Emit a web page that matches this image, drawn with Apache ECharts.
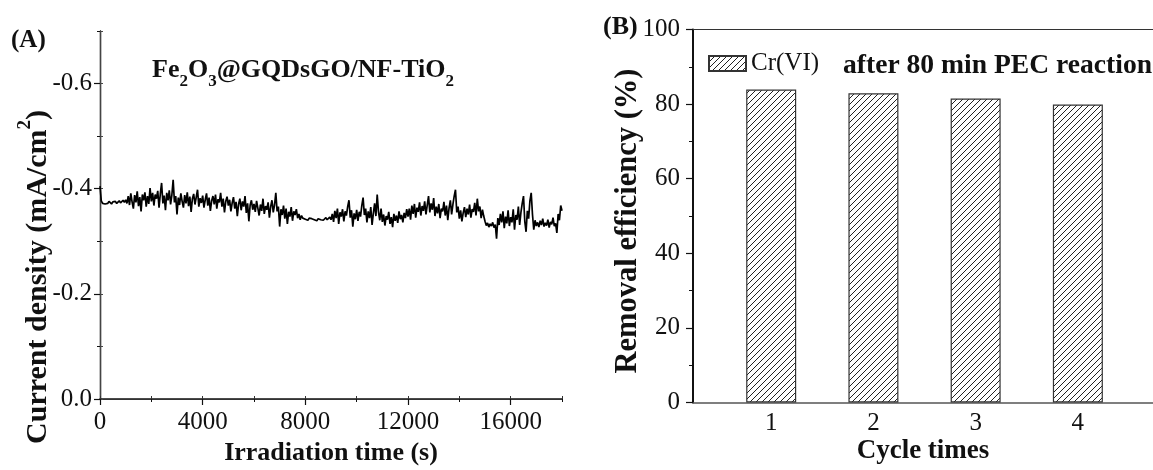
<!DOCTYPE html>
<html>
<head>
<meta charset="utf-8">
<script src="https://cdn.jsdelivr.net/npm/echarts@6/dist/echarts.min.js"></script>
<style>
  html, body { margin: 0; padding: 0; background: #fff; }
  #chart { width: 1153px; height: 470px; }
</style>
</head>
<body>
<div id="chart"></div>
<script>
// (A) photocurrent trace: one reading every timeStep seconds, starting at t = 0
const timeStep = 50;
const currentDensity = [
  -0.405, -0.377, -0.372, -0.375, -0.371, -0.374, -0.372, -0.376, -0.373, -0.371, -0.375, -0.373, -0.376, -0.372, -0.374, -0.377, -0.373, -0.375, -0.378, -0.374,
  -0.379, -0.372, -0.386, -0.369, -0.391, -0.375, -0.362, -0.388, -0.374, -0.395, -0.367, -0.384, -0.357, -0.389, -0.378, -0.393, -0.366, -0.386, -0.371, -0.401,
  -0.376, -0.392, -0.368, -0.389, -0.381, -0.396, -0.364, -0.390, -0.411, -0.372, -0.387, -0.359, -0.392, -0.378, -0.397, -0.370, -0.388, -0.417, -0.374, -0.386,
  -0.351, -0.383, -0.369, -0.391, -0.376, -0.364, -0.388, -0.372, -0.393, -0.367, -0.385, -0.356, -0.381, -0.390, -0.370, -0.384, -0.398, -0.366, -0.382, -0.373,
  -0.387, -0.364, -0.379, -0.391, -0.368, -0.383, -0.358, -0.377, -0.386, -0.370, -0.389, -0.362, -0.380, -0.374, -0.392, -0.366, -0.381, -0.355, -0.376, -0.385,
  -0.368, -0.379, -0.357, -0.373, -0.384, -0.362, -0.375, -0.348, -0.371, -0.381, -0.359, -0.376, -0.366, -0.386, -0.354, -0.372, -0.338, -0.369, -0.378, -0.360,
  -0.371, -0.356, -0.377, -0.363, -0.349, -0.370, -0.358, -0.381, -0.352, -0.367, -0.360, -0.374, -0.345, -0.366, -0.378, -0.355, -0.369, -0.392, -0.357, -0.366,
  -0.328, -0.361, -0.350, -0.368, -0.343, -0.362, -0.333, -0.356, -0.347, -0.365, -0.339, -0.357, -0.350, -0.361, -0.344, -0.352, -0.341, -0.349, -0.344, -0.347,
  -0.342, -0.345, -0.340, -0.344, -0.341, -0.343, -0.346, -0.341, -0.344, -0.339, -0.343, -0.345, -0.341, -0.344, -0.340, -0.342, -0.345, -0.341, -0.343, -0.346,
  -0.341, -0.352, -0.337, -0.358, -0.344, -0.362, -0.333, -0.355, -0.347, -0.361, -0.338, -0.357, -0.349, -0.366, -0.378, -0.345, -0.359, -0.328, -0.353, -0.342,
  -0.360, -0.339, -0.356, -0.347, -0.368, -0.383, -0.350, -0.362, -0.336, -0.357, -0.344, -0.365, -0.331, -0.353, -0.372, -0.348, -0.389, -0.356, -0.340, -0.362,
  -0.337, -0.351, -0.330, -0.348, -0.341, -0.356, -0.333, -0.346, -0.327, -0.352, -0.339, -0.349, -0.335, -0.357, -0.342, -0.350, -0.336, -0.354, -0.344, -0.361,
  -0.347, -0.362, -0.341, -0.368, -0.352, -0.371, -0.345, -0.364, -0.356, -0.374, -0.349, -0.367, -0.358, -0.376, -0.351, -0.369, -0.386, -0.355, -0.372, -0.360,
  -0.382, -0.348, -0.366, -0.353, -0.371, -0.344, -0.362, -0.357, -0.375, -0.349, -0.368, -0.340, -0.363, -0.378, -0.351, -0.370, -0.386, -0.398, -0.355, -0.366,
  -0.343, -0.359, -0.338, -0.354, -0.365, -0.346, -0.362, -0.351, -0.370, -0.345, -0.361, -0.356, -0.373, -0.349, -0.381, -0.357, -0.366, -0.344, -0.360, -0.348,
  -0.338, -0.330, -0.335, -0.327, -0.333, -0.329, -0.336, -0.326, -0.332, -0.305, -0.344, -0.331, -0.352, -0.336, -0.357, -0.325, -0.347, -0.334, -0.359, -0.329,
  -0.346, -0.336, -0.361, -0.322, -0.350, -0.341, -0.366, -0.331, -0.355, -0.372, -0.386, -0.338, -0.318, -0.358, -0.343, -0.377, -0.392, -0.351, -0.322, -0.340,
  -0.329, -0.336, -0.327, -0.339, -0.331, -0.343, -0.328, -0.335, -0.330, -0.341, -0.326, -0.337, -0.332, -0.345, -0.329, -0.334, -0.316, -0.352, -0.340, -0.368,
  -0.358
];
const currentTicks = [-0.6, -0.4, -0.2, 0];
const timeTicks = [0, 4000, 8000, 12000, 16000];

// (B) Cr(VI) removal over repeated cycles
const cycleTimes = [1, 2, 3, 4];
const removalEfficiency = [83.9, 82.9, 81.5, 79.9];

const serif = "'Liberation Serif', 'Times New Roman', serif";
const ink = '#111';

// diagonal "////" fill used for the bars and the legend key
function hatchFill() {
  const c = document.createElement('canvas');
  c.width = 6; c.height = 6;
  const g = c.getContext('2d');
  g.strokeStyle = '#222';
  g.lineWidth = 1;
  g.beginPath();
  g.moveTo(-1, 7); g.lineTo(7, -1);
  g.moveTo(-1, 1); g.lineTo(1, -1);
  g.moveTo(5, 7); g.lineTo(7, 5);
  g.stroke();
  return { image: c, repeat: 'repeat' };
}
const hatch = hatchFill();

const tracePoints = currentDensity.map((v, i) => [i * timeStep, v]);
const barPoints = cycleTimes.map((c, i) => [c, removalEfficiency[i]]);

const labelStyle = { fontFamily: serif, fontSize: 25, color: ink };
const noSplit = { show: false };

const chart = echarts.init(document.getElementById('chart'), null, { renderer: 'canvas' });

chart.setOption({
  animation: false,
  backgroundColor: '#fff',
  grid: [
    { left: 100, top: 31, width: 462, height: 368 },
    { left: 693, top: 29.5, width: 472, height: 373 }
  ],
  xAxis: [
    { // (A) bottom: labelled time axis
      type: 'value', gridIndex: 0, position: 'bottom', min: 0, max: 18000,
      axisLine: { show: true, lineStyle: { color: ink, width: 1.6 } },
      axisTick: { show: true, customValues: timeTicks, length: 6, lineStyle: { color: ink, width: 1.2 } },
      axisLabel: { ...labelStyle, customValues: timeTicks, margin: 11, formatter: v => String(v) },
      splitLine: noSplit
    },
    { // (A) bottom: minor ticks
      type: 'value', gridIndex: 0, position: 'bottom', min: 0, max: 18000, interval: 2000,
      axisLine: { show: false },
      axisTick: { show: true, length: 3, lineStyle: { color: ink, width: 1 } },
      axisLabel: { show: false }, splitLine: noSplit
    },
    { // (A) top frame
      type: 'value', gridIndex: 0, position: 'top', min: 0, max: 18000, interval: 2000,
      axisLine: { show: true, lineStyle: { color: '#333', width: 1.2 } },
      axisTick: { show: true, length: 3, lineStyle: { color: '#333', width: 1 } },
      axisLabel: { show: false }, splitLine: noSplit
    },
    { // (B) bottom: cycle number
      type: 'value', gridIndex: 1, position: 'bottom', min: 0.235, max: 4.735,
      axisLine: { show: true, lineStyle: { color: '#555', width: 1.5 } },
      axisTick: { show: false },
      axisLabel: { ...labelStyle, customValues: cycleTimes, margin: 8 },
      splitLine: noSplit
    },
    { // (B) top frame
      type: 'value', gridIndex: 1, position: 'top', min: 0.235, max: 4.735,
      axisLine: { show: true, lineStyle: { color: '#333', width: 1.2 } },
      axisTick: { show: false }, axisLabel: { show: false }, splitLine: noSplit
    }
  ],
  yAxis: [
    { // (A) left: labelled current axis, negative values upward
      type: 'value', gridIndex: 0, position: 'left', inverse: true, min: -0.7, max: 0,
      axisLine: { show: true, lineStyle: { color: ink, width: 1.4 } },
      axisTick: { show: true, customValues: currentTicks, length: 6, lineStyle: { color: ink, width: 1.2 } },
      axisLabel: { ...labelStyle, customValues: currentTicks, margin: 8,
        formatter: v => (Math.abs(v) < 1e-9 ? '0.0' : v.toFixed(1)) },
      splitLine: noSplit
    },
    { // (A) left: minor ticks
      type: 'value', gridIndex: 0, position: 'left', inverse: true, min: -0.7, max: 0, interval: 0.1,
      axisLine: { show: false },
      axisTick: { show: true, length: 3, lineStyle: { color: ink, width: 1 } },
      axisLabel: { show: false }, splitLine: noSplit
    },
    { // (A) right frame
      type: 'value', gridIndex: 0, position: 'right', inverse: true, min: -0.7, max: 0, interval: 0.1,
      axisLine: { show: true, lineStyle: { color: '#444', width: 1.2 } },
      axisTick: { show: true, length: 3, lineStyle: { color: '#444', width: 1 } },
      axisLabel: { show: false }, splitLine: noSplit
    },
    { // (B) left: removal efficiency
      type: 'value', gridIndex: 1, position: 'left', min: 0, max: 100, interval: 20,
      axisLine: { show: true, lineStyle: { color: ink, width: 2 } },
      axisTick: { show: true, length: 7, lineStyle: { color: ink, width: 1.2 } },
      minorTick: { show: true, splitNumber: 2, length: 4, lineStyle: { color: ink, width: 1 } },
      axisLabel: { ...labelStyle, margin: 13 },
      splitLine: noSplit, minorSplitLine: { show: false }
    }
  ],
  legend: {
    left: 708, top: 51, padding: 0, icon: 'rect', itemWidth: 37, itemHeight: 15,
    textStyle: { fontFamily: serif, fontSize: 25, color: ink },
    data: ['Cr(VI)']
  },
  series: [
    {
      name: 'Fe2O3@GQDsGO/NF-TiO2', type: 'line', xAxisIndex: 0, yAxisIndex: 0,
      data: tracePoints, showSymbol: false, symbol: 'none',
      lineStyle: { color: '#000', width: 1.7 }
    },
    {
      name: 'Cr(VI)', type: 'bar', xAxisIndex: 3, yAxisIndex: 3,
      data: barPoints, barWidth: 50,
      itemStyle: { color: hatch, borderColor: '#333', borderWidth: 1.2 }
    }
  ],
  graphic: [
    { type: 'text', x: 11, y: 41,
      style: { text: '(A)', fontFamily: serif, fontSize: 25, fontWeight: 'bold', fill: ink, align: 'left', verticalAlign: 'middle' } },
    { type: 'text', x: 603, y: 27,
      style: { text: '(B)', fontFamily: serif, fontSize: 26, fontWeight: 'bold', fill: ink, align: 'left', verticalAlign: 'middle' } },
    { type: 'text', x: 152, y: 70,
      style: {
        text: '{b|Fe}{s|2}{b|O}{s|3}{b|@GQDsGO/NF-TiO}{s|2}',
        align: 'left', verticalAlign: 'middle',
        rich: {
          b: { fontFamily: serif, fontSize: 26, fontWeight: 'bold', fill: ink, lineHeight: 40 },
          s: { fontFamily: serif, fontSize: 17, fontWeight: 'bold', fill: ink, lineHeight: 14, verticalAlign: 'bottom' }
        }
      } },
    { type: 'text', x: 843, y: 66,
      style: { text: 'after 80 min PEC reaction', fontFamily: serif, fontSize: 27.6, fontWeight: 'bold', fill: ink, align: 'left', verticalAlign: 'middle' } },
    { type: 'text', x: 331, y: 453,
      style: { text: 'Irradiation time (s)', fontFamily: serif, fontSize: 26, fontWeight: 'bold', fill: ink, align: 'center', verticalAlign: 'middle' } },
    { type: 'text', x: 923, y: 451,
      style: { text: 'Cycle times', fontFamily: serif, fontSize: 27, fontWeight: 'bold', fill: ink, align: 'center', verticalAlign: 'middle' } },
    { type: 'text', x: 38, y: 277, rotation: Math.PI / 2,
      style: {
        text: '{b|Current density (mA/cm}{p|2}{b|)}',
        align: 'center', verticalAlign: 'middle',
        rich: {
          b: { fontFamily: serif, fontSize: 30, fontWeight: 'bold', fill: ink, lineHeight: 44 },
          p: { fontFamily: serif, fontSize: 19, fontWeight: 'bold', fill: ink, lineHeight: 16, verticalAlign: 'top' }
        }
      } },
    { type: 'text', x: 628, y: 221, rotation: Math.PI / 2,
      style: { text: 'Removal efficiency (%)', fontFamily: serif, fontSize: 30.5, fontWeight: 'bold', fill: ink, align: 'center', verticalAlign: 'middle' } }
  ]
});
</script>
</body>
</html>
